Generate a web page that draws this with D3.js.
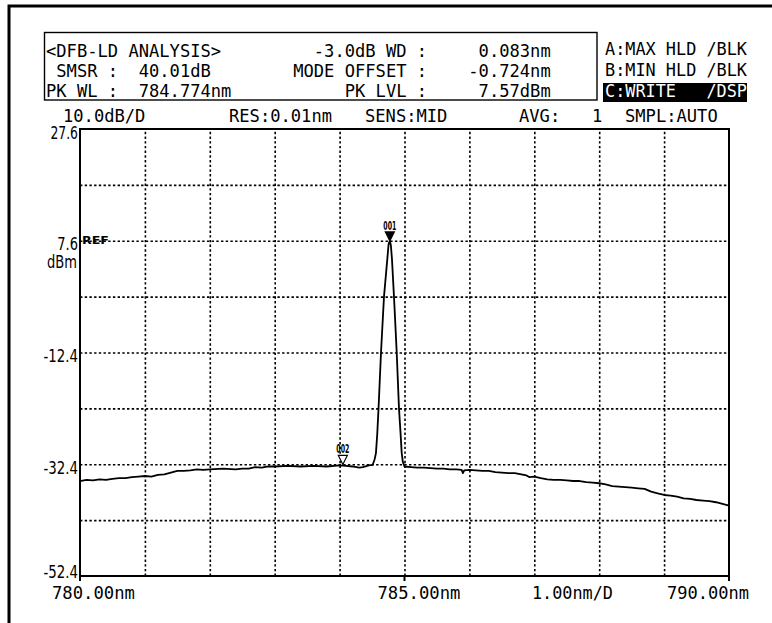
<!DOCTYPE html>
<html lang="en">
<head>
<meta charset="utf-8">
<title>DFB-LD analysis</title>
<script src="https://cdn.jsdelivr.net/npm/d3@7"></script>
<style>
  body { margin: 0; background: #fff; }
  svg { display: block; }
  text { white-space: pre; }
  .mono { font-family: "DejaVu Sans Mono", monospace; font-size: 18px; }
  .lbl { font-family: "DejaVu Sans", sans-serif; font-size: 17px; }
  .grid line { stroke: #000; stroke-width: 1.6; stroke-dasharray: 2.4 2.3; }
  .grid path { display: none; }
</style>
</head>
<body>
<div id="chart"></div>
<script>
// trace: wavelength (nm) and level (dBm)
var wavelengths = [
  780.00, 780.10, 780.20, 780.30, 780.40, 780.50, 780.60, 780.70, 780.80, 780.90,
  781.00, 781.10, 781.20, 781.30, 781.40, 781.50, 781.60, 781.70, 781.80, 781.90,
  782.00, 782.20, 782.40, 782.50, 782.60, 782.70, 782.80, 782.90, 783.00, 783.20,
  783.40, 783.60, 783.80, 784.00, 784.10, 784.20, 784.30, 784.36, 784.45, 784.51,
  784.54, 784.56, 784.58, 784.60, 784.638, 784.684, 784.735, 784.755, 784.774, 784.79,
  784.807, 784.838, 784.88, 784.915, 784.94, 784.957, 784.975, 785.00,
  785.10, 785.20, 785.30, 785.40, 785.50, 785.60, 785.70, 785.80, 785.88, 785.90,
  785.92, 786.00, 786.10, 786.20, 786.30, 786.40, 786.50, 786.60, 786.70, 786.80,
  786.88, 786.92, 787.00, 787.10, 787.20, 787.30, 787.40, 787.50, 787.60, 787.70,
  787.80, 787.90, 788.00, 788.10, 788.20, 788.30, 788.40, 788.50, 788.60, 788.70,
  788.80, 788.90, 789.00, 789.10, 789.20, 789.30, 789.40, 789.50, 789.60, 789.70,
  789.80, 789.90, 790.00
];
var levels = [
  -35.4, -35.2, -35.3, -35.1, -35.2, -35.0, -34.9, -34.9, -34.7, -34.6,
  -34.5, -34.6, -34.3, -34.2, -33.9, -33.6, -33.6, -33.5, -33.3, -33.4,
  -33.3, -33.2, -33.3, -33.2, -33.2, -32.9, -33.0, -32.8, -32.8, -32.7,
  -32.8, -32.7, -32.8, -32.6, -32.7, -32.8, -33.0, -32.9, -32.6, -32.5,
  -31.5, -30.4, -27.0, -22.4, -12.4, -2.4, 4.3, 7.0, 7.57, 6.8,
  4.3, -2.4, -12.4, -22.4, -27.0, -30.4, -32.0, -32.8,
  -32.9, -33.0, -33.0, -33.1, -33.2, -33.2, -33.3, -33.3, -33.4, -34.0,
  -33.5, -33.4, -33.5, -33.6, -33.6, -33.8, -33.9, -34.0, -34.0, -34.2,
  -34.4, -34.7, -34.6, -34.9, -35.1, -35.2, -35.2, -35.3, -35.4, -35.4,
  -35.6, -35.7, -35.8, -36.0, -36.3, -36.4, -36.5, -36.6, -36.7, -36.8,
  -37.3, -37.6, -37.9, -38.0, -38.2, -38.5, -38.6, -38.8, -38.9, -39.0,
  -39.2, -39.5, -39.8
];

// markers
var markerNames = ["001", "002"];
var markerWl = [784.774, 784.05];
var markerLvl = [7.57, -32.44];
var markerFilled = [true, false];

// axis labels
var yTickLabels = ["27.6", "7.6", "-12.4", "-32.4", "-52.4"];
var xTickLabels = ["780.00nm", "785.00nm", "790.00nm"];

// header texts: [text, column]
var headerRows = [
  [["<DFB-LD ANALYSIS>", 0], ["-3.0dB WD :", 26], ["0.083nm", 42]],
  [["SMSR :", 1], ["40.01dB", 9], ["MODE OFFSET :", 24], ["-0.724nm", 41]],
  [["PK WL :", 0], ["784.774nm", 9], ["PK LVL :", 29], ["7.57dBm", 42]]
];
var traceModes = ["A:MAX HLD /BLK", "B:MIN HLD /BLK", "C:WRITE   /DSP"];
var condRow = [["10.0dB/D", 63], ["RES:0.01nm", 229], ["SENS:MID", 365], ["AVG:", 519], ["1", 592], ["SMPL:AUTO", 625]];

var w = 772, h = 623;
var plotL = 80, plotR = 729, plotT = 129, plotB = 576;
var cw = 10.3;   // character cell width of the screen font

var svg = d3.select("#chart").append("svg")
  .attr("width", w).attr("height", h);

function txt(x, y, s, len, cls) {
  var t = svg.append("text").attr("class", cls || "mono")
    .attr("x", x).attr("y", y).attr("fill", "#000").text(s);
  if (len) t.attr("textLength", len).attr("lengthAdjust", "spacingAndGlyphs");
  return t;
}

// outer screen border
svg.append("path")
  .attr("d", "M9," + h + "V6H" + w)
  .attr("fill", "none").attr("stroke", "#000").attr("stroke-width", 3);

// analysis box
svg.append("rect")
  .attr("x", 44.5).attr("y", 32.5).attr("width", 552.5).attr("height", 67.5)
  .attr("fill", "none").attr("stroke", "#000").attr("stroke-width", 1.4);

var rowY = [56.5, 77, 97];
headerRows.forEach(function(row, i) {
  row.forEach(function(seg) {
    txt(46 + seg[1] * cw, rowY[i], seg[0], seg[0].length * cw);
  });
});

// trace mode panel, C is highlighted
svg.append("rect").attr("x", 603).attr("y", 83).attr("width", 144).attr("height", 19).attr("fill", "#000");
traceModes.forEach(function(s, i) {
  txt(605, [55, 76, 97][i], s, 142).attr("fill", i == 2 ? "#fff" : "#000");
});

condRow.forEach(function(seg) {
  txt(seg[1], 122, seg[0], seg[0].length * cw);
});

// scales
var xScale = d3.scaleLinear().domain([780, 790]).range([plotL, plotR]);
var yScale = d3.scaleLinear().domain([-52.4, 27.6]).range([plotB, plotT]);

// dotted grid
svg.append("g").attr("class", "grid")
  .attr("transform", "translate(0," + plotB + ")")
  .call(d3.axisBottom(xScale).tickValues(d3.range(781, 790)).tickSize(-(plotB - plotT)).tickFormat(""));
svg.append("g").attr("class", "grid")
  .attr("transform", "translate(" + plotL + ",0)")
  .call(d3.axisLeft(yScale).tickValues(d3.range(-42.4, 27, 10)).tickSize(-(plotR - plotL)).tickFormat(""));

// frame
svg.append("rect")
  .attr("x", plotL).attr("y", plotT).attr("width", plotR - plotL).attr("height", plotB - plotT)
  .attr("fill", "none").attr("stroke", "#000").attr("stroke-width", 2);

// short ticks under the axis
svg.selectAll("line.tick5")
  .data([780, 785, 790]).enter().append("line")
  .attr("x1", function(d) { return xScale(d); }).attr("x2", function(d) { return xScale(d); })
  .attr("y1", plotB).attr("y2", plotB + 5)
  .attr("stroke", "#000").attr("stroke-width", 2);

// y labels
yTickLabels.forEach(function(s) {
  var y = Math.min(yScale(+s) + 9.5, plotB + 2);
  var len = s.length * 6.9;
  txt(78 - len, y, s, len, "lbl");
});
txt(47, 268, "dBm", 30, "lbl");
txt(82, yScale(7.6) + 3.5, "REF", 27, "lbl").style("font-size", "10px").style("font-weight", "bold");

// x labels
txt(xScale(780) - 28, 599, xTickLabels[0], 83);
txt(xScale(785) - 27, 599, xTickLabels[1], 83);
txt(532, 599, "1.00nm/D", 81);
txt(xScale(790) - 62, 599, xTickLabels[2], 82);

// spectrum trace
var trace = wavelengths.map(function(d, i) { return [d, levels[i]]; });
var line = d3.line()
  .x(function(d) { return xScale(d[0]); })
  .y(function(d) { return yScale(d[1]); });
svg.append("path")
  .datum(trace)
  .attr("d", line)
  .attr("fill", "none").attr("stroke", "#000").attr("stroke-width", 1.8)
  .attr("stroke-linejoin", "round");

// markers
markerNames.forEach(function(name, i) {
  var mx = xScale(markerWl[i]), my = yScale(markerLvl[i]);
  svg.append("path")
    .attr("d", "M" + (mx - 4.5) + "," + (my - 9) + "H" + (mx + 4.5) + "L" + mx + "," + my + "Z")
    .attr("fill", markerFilled[i] ? "#000" : "#fff")
    .attr("stroke", "#000").attr("stroke-width", 1.2);
  txt(mx - 6.5, my - 11, name, 13, "lbl").style("font-size", "12px").style("font-weight", "bold");
});
</script>
</body>
</html>
